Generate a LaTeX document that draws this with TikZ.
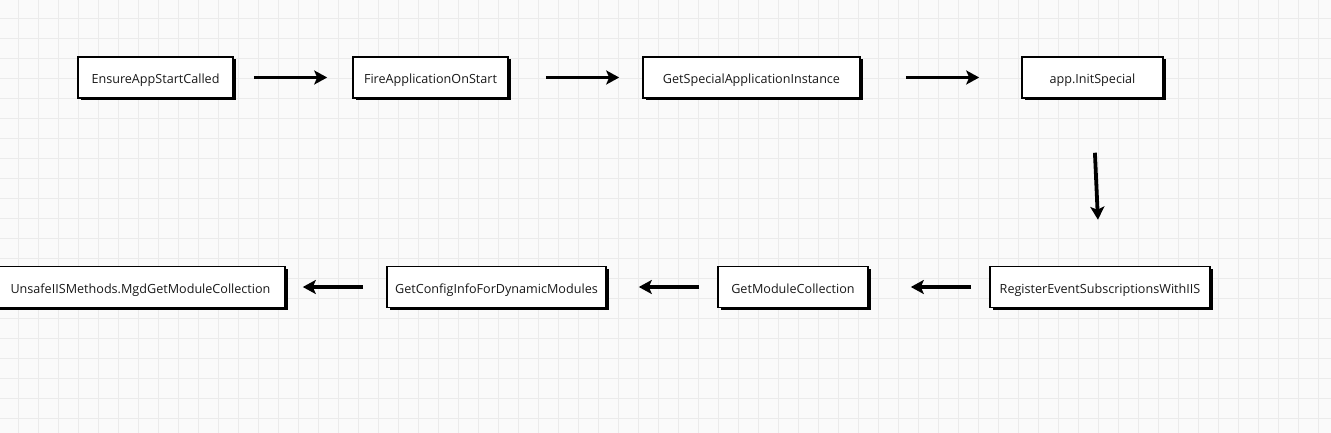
\documentclass[tikz,border=0pt]{standalone}
\usepackage{fontspec}
\setmainfont{Open Sans}
\usetikzlibrary{arrows.meta, shadows}
\tikzstyle{arrow} = [line width=3.8pt, -{Stealth[length=13pt, width=14pt, inset=3pt]}]
\tikzstyle{callbox} = [draw, line width=1.6pt, fill=white, minimum height=41pt, inner sep=0pt,
  text height=13pt, text depth=0pt, text=black!90, font=\fontsize{12.6}{15}\selectfont,
  drop shadow={shadow xshift=2.5pt, shadow yshift=-2.5pt, fill=black, opacity=1}]

\begin{document}
\begin{tikzpicture}[x=1pt, y=-1pt]
      \useasboundingbox (0,0) rectangle (1331,433);
      \fill [black!2] (0,0) rectangle (1331,433);
      \foreach \gx in {18.5,38.5,...,1331} \draw [black!8, line width=1.4pt] (\gx,0) -- (\gx,433);
      \foreach \gy in {18.5,38.5,...,433} \draw [black!8, line width=1.4pt] (0,\gy) -- (1331,\gy);
      % top row
      \node [callbox, minimum width=155pt] (ensure) at (155.5,77.5) {EnsureAppStartCalled};
      \node [callbox, minimum width=155pt] (fire) at (430.5,77.5) {FireApplicationOnStart};
      \node [callbox, minimum width=217pt] (special) at (751.5,77.5) {GetSpecialApplicationInstance};
      \node [callbox, minimum width=141pt] (init) at (1092.5,77.5) {app.InitSpecial};
      % bottom row
      \node [callbox, minimum width=220pt] (register) at (1100,287) {RegisterEventSubscriptionsWithIIS};
      \node [callbox, minimum width=150pt] (modcoll) at (793,287) {GetModuleCollection};
      \node [callbox, minimum width=219pt] (config) at (496.5,287) {GetConfigInfoForDynamicModules};
      \node [callbox, minimum width=289pt] (unsafe) at (140.5,287) {UnsafeIISMethods.MgdGetModuleCollection};
      \draw [arrow, shorten <=20pt, shorten >=25pt] (ensure) -- (fire);
      \draw [arrow, shorten <=37pt, shorten >=23pt] (fire) -- (special);
      \draw [arrow, shorten <=45pt, shorten >=42pt] (special) -- (init);
      \draw [arrow, shorten <=54pt, shorten >=46pt] (init.south) -- (register.north);
      \draw [arrow, shorten <=18pt, shorten >=42pt] (register) -- (modcoll);
      \draw [arrow, shorten <=18pt, shorten >=32pt] (modcoll) -- (config);
      \draw [arrow, shorten <=23pt, shorten >=17pt] (config) -- (unsafe);
\end{tikzpicture}
\end{document}
